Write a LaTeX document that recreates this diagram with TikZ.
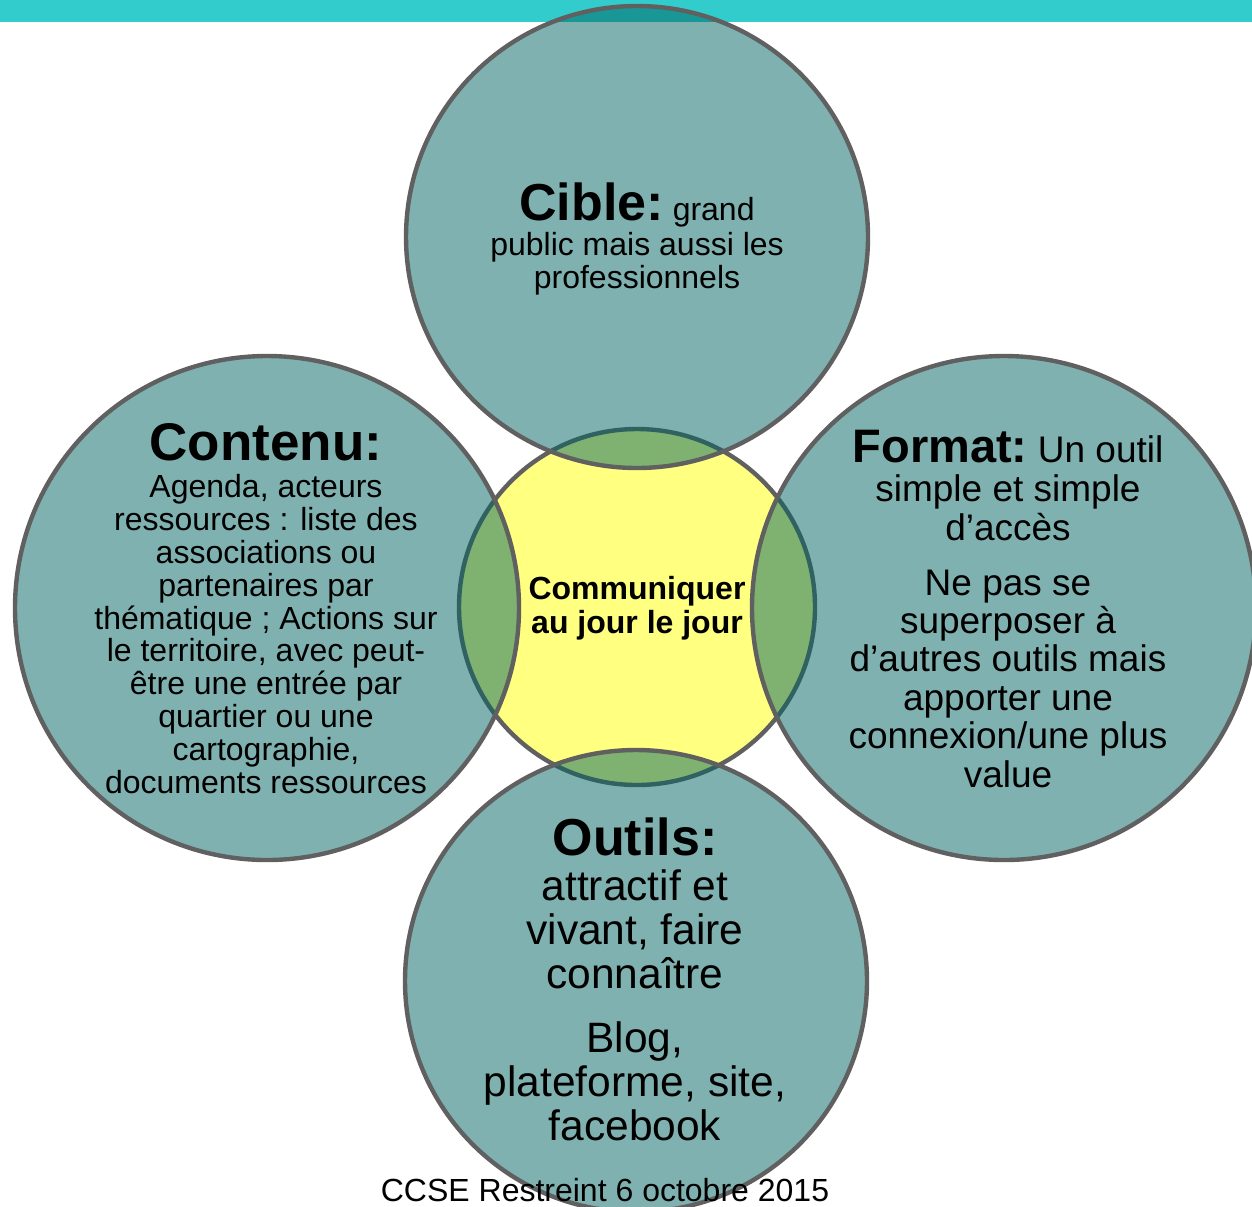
\documentclass[tikz,border=0pt]{standalone}
\usepackage{fontspec}
\setmainfont{Liberation Sans}
\usetikzlibrary{positioning}
\definecolor{topbar}{RGB}{51,204,204}
\definecolor{rimgray}{RGB}{96,96,96}
\definecolor{petal}{RGB}{0,100,97}
\definecolor{hubyellow}{RGB}{255,255,128}
\begin{document}
\begin{tikzpicture}[x=0.5pt,y=-0.5pt,big circle/.style={circle,draw=rimgray,line width=2.2pt,fill=petal,fill opacity=0.5,draw opacity=1,inner sep=0pt},hub node/.style={circle,draw=rimgray,line width=2.2pt,fill=hubyellow,inner sep=0pt,minimum size=178pt},text line/.style={align=center,anchor=base,inner sep=0pt}]
  \useasboundingbox (0,0) rectangle (1252,1206);
  \fill[topbar] (0,0) rectangle (1252,22);
  \node[hub node] (hub) at (637,607) {};
  \node[big circle,minimum size=231pt] (cible) at (637,237) {};
  \node[big circle,minimum size=252pt] (contenu) at (267,608) {};
  \node[big circle,minimum size=252pt] (format) at (1004,608) {};
  \node[big circle,minimum size=231pt] (outils) at (636,981) {};
  \node[text line,font=\fontsize{16}{17}\selectfont\bfseries] (hub text) at (637,633) {Communiquer\\au jour le jour};
  \node[text line,font=\fontsize{26}{28}\selectfont\bfseries] (cible title) at (637,220) {Cible:{\fontsize{16}{16.5}\selectfont\mdseries\ grand}};
  \node[text line,font=\fontsize{16}{16.5}\selectfont] (cible text) at (637,288) {public mais aussi les\\professionnels};
  \node[text line,font=\fontsize{26.5}{28}\selectfont\bfseries] (contenu title) at (266,460) {Contenu:};
  \node[text line,font=\fontsize{16}{16.4}\selectfont] (contenu text) at (266,793) {Agenda, acteurs\\ressources : liste des\\associations ou\\partenaires par\\thématique ; Actions sur\\le territoire, avec peut-\\être une entrée par\\quartier ou une\\cartographie,\\documents ressources};
  \node[text line,font=\fontsize{23.5}{25}\selectfont\bfseries] (format title) at (1008,462) {Format:{\fontsize{18.5}{19.2}\selectfont\mdseries\ Un outil}};
  \node[text line,font=\fontsize{18.5}{19.2}\selectfont] (format text) at (1008,787) {simple et simple\\d’accès\\[8.3pt]Ne pas se\\superposer à\\d’autres outils mais\\apporter une\\connexion/une plus\\value};
  \node[text line,font=\fontsize{26}{28}\selectfont\bfseries] (outils title) at (635,855) {Outils:};
  \node[text line,font=\fontsize{21.25}{22}\selectfont] (outils text) at (635,1140) {attractif et\\vivant, faire\\connaître\\[10pt]Blog,\\plateforme, site,\\facebook};
  \node[text line,font=\fontsize{16}{17}\selectfont] (footer) at (605,1201) {CCSE Restreint 6 octobre 2015};
\end{tikzpicture}
\end{document}
